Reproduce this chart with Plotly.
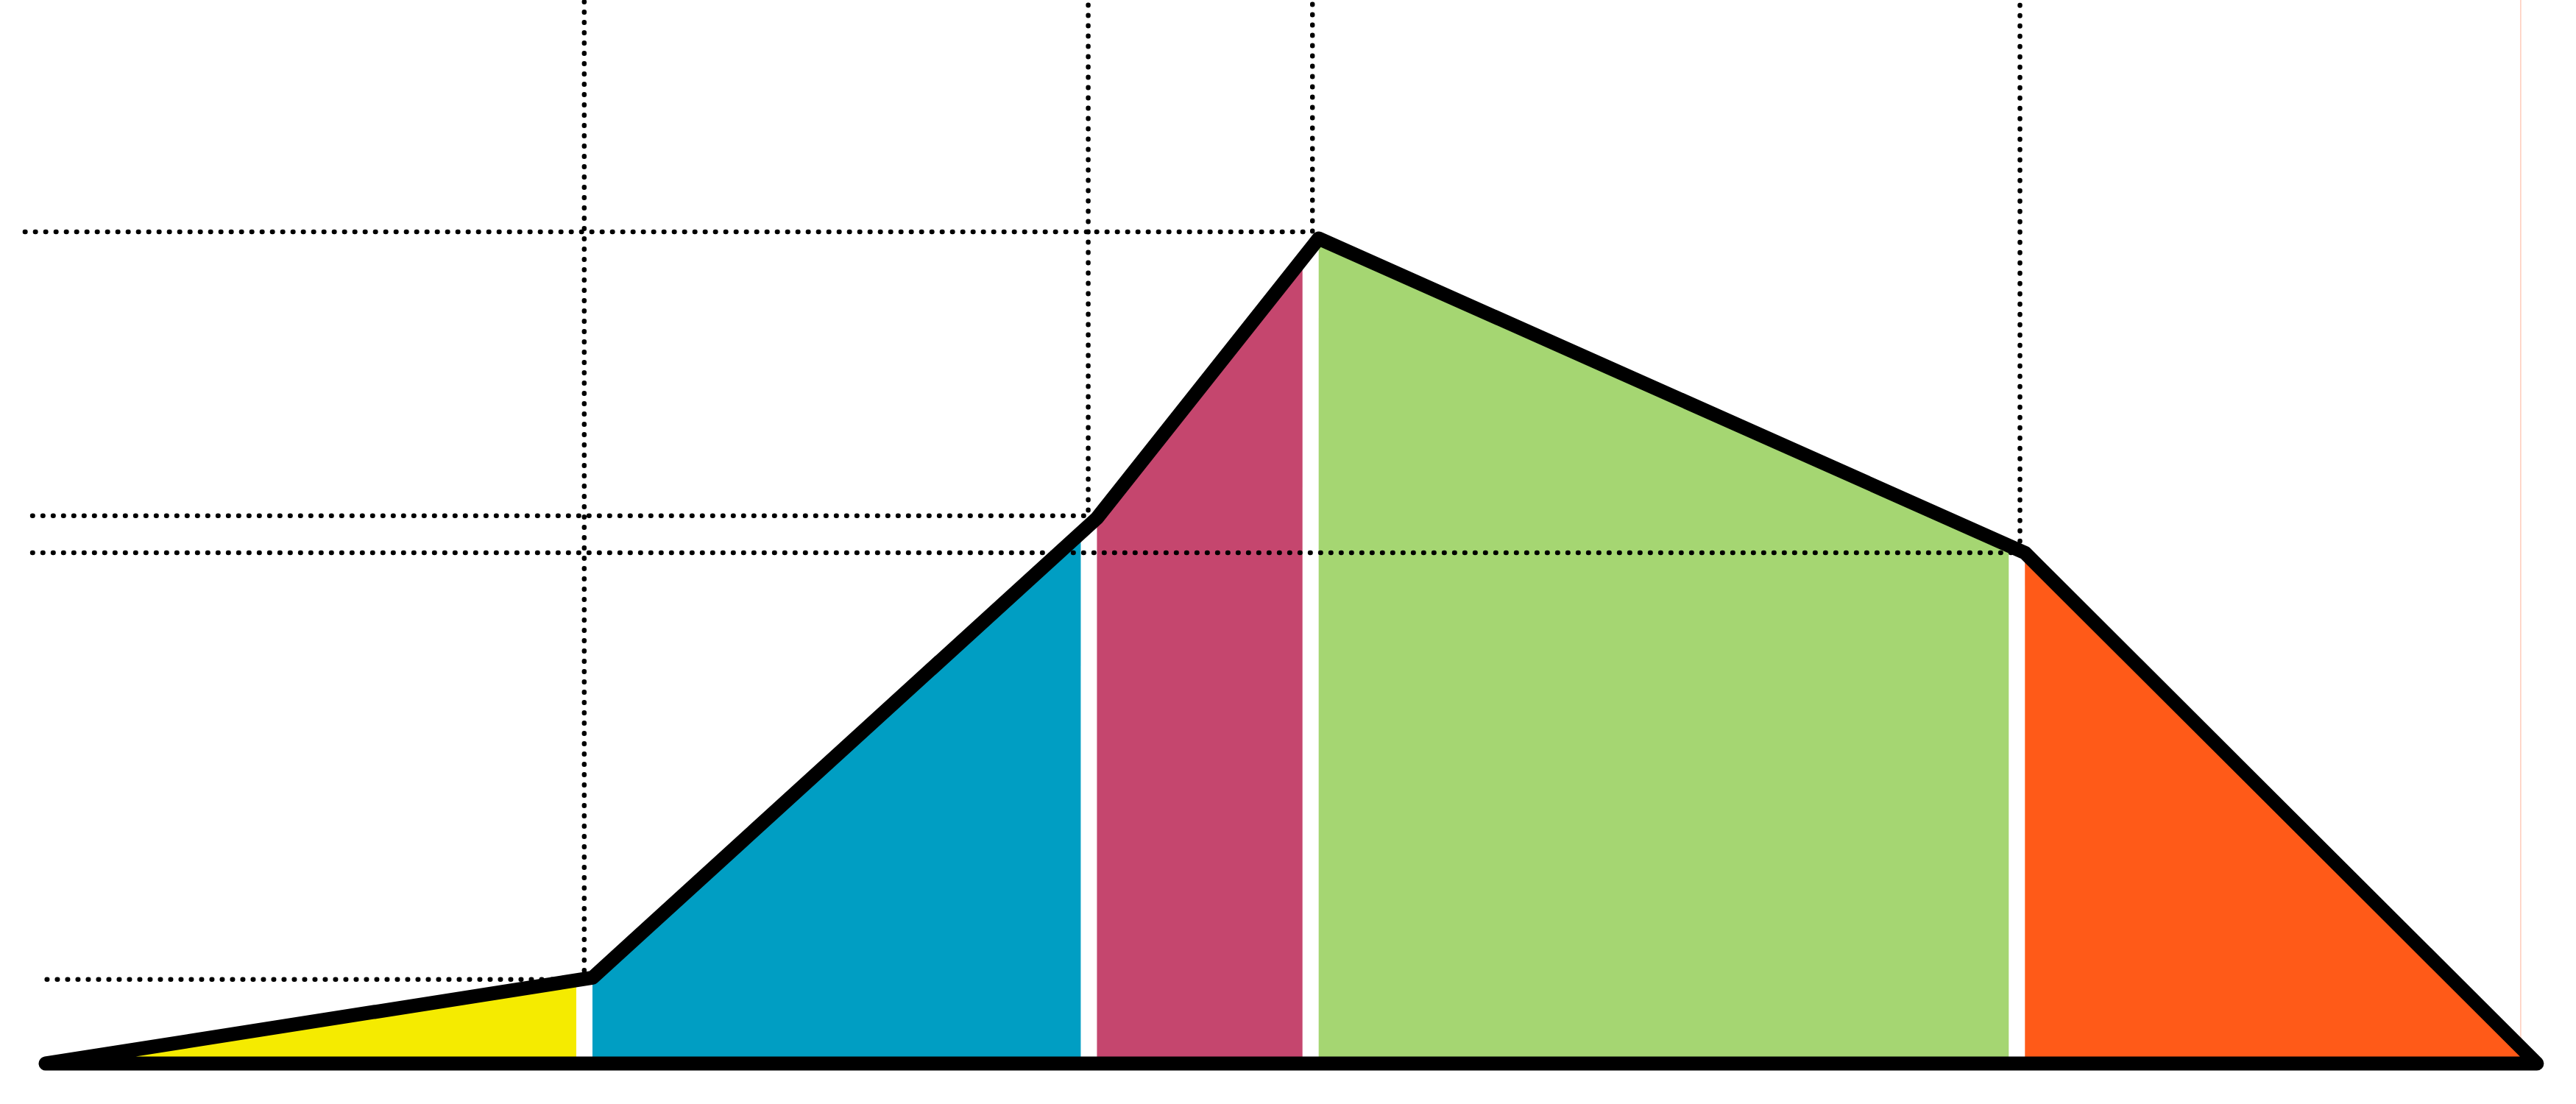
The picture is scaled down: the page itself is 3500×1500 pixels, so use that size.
import numpy as np
import plotly.graph_objects as go

# Outline break points (x as % of span, y as % of peak)
stage_x = [0.0, 21.95, 42.2, 51.1, 79.45, 100.0]
stage_y = [0.0, 10.4, 66.1, 100.0, 61.9, 0.3]
stage_colors = ["#F5EB00", "#009EC3", "#C5466E", "#A5D672", "#FF5A18"]

# Dotted guide lines
guide_x = [21.62, 41.85, 50.85, 79.25]
guide_y = [10.2, 66.4, 100.8, 61.9]
guide_left = [0.05, -0.53, -0.83, -0.53]

GAP = 0.65
X_RANGE = [-1.832, 101.57]
Y_RANGE = [-4.906, 128.9]

fig = go.Figure()

# Coloured regions under the outline
for i, col in enumerate(stage_colors):
    xa = stage_x[i]
    xb = stage_x[i + 1] - GAP
    ya = float(np.interp(xa, stage_x, stage_y))
    yb = float(np.interp(xb, stage_x, stage_y))
    fig.add_trace(go.Scatter(
        x=[xa, xa, xb, xb, xa], y=[0, ya, yb, 0, 0],
        mode="lines", fill="toself", fillcolor=col,
        line=dict(width=0, color=col), hoverinfo="skip", showlegend=False))

# faint edge line at right end of the last region
xe = stage_x[-1] - GAP
fig.add_trace(go.Scatter(x=[xe, xe], y=[0, Y_RANGE[1]], mode="lines",
                         line=dict(color="rgba(255,110,60,0.35)", width=1.5),
                         hoverinfo="skip", showlegend=False))

# Dotted guides
for gx, gy, gl in zip(guide_x, guide_y, guide_left):
    fig.add_trace(go.Scatter(x=[gl, gx, gx], y=[gy, gy, Y_RANGE[1]], mode="lines",
                             line=dict(color="black", width=6.5, dash="0.5px,13.5px"),
                             hoverinfo="skip", showlegend=False))

# Outline (closed along the baseline)
fig.add_trace(go.Scatter(
    x=stage_x + [stage_x[-1], stage_x[0]],
    y=stage_y + [0, 0],
    mode="lines", line=dict(color="black", width=19),
    hoverinfo="skip", showlegend=False))

fig.update_layout(
    width=3500, height=1500,
    margin=dict(l=0, r=0, t=0, b=0),
    paper_bgcolor="white", plot_bgcolor="white",
    xaxis=dict(range=X_RANGE, visible=False, showgrid=False, zeroline=False),
    yaxis=dict(range=Y_RANGE, visible=False, showgrid=False, zeroline=False),
    showlegend=False,
)

post = """
document.body.style.margin='0';
document.body.style.overflow='hidden';
document.querySelectorAll('.scatterlayer path.js-line').forEach(function(p){
  p.style.strokeLinejoin='round';
  p.style.strokeLinecap='round';
});
"""
fig.write_html("out.html", config={"displayModeBar": False}, post_script=post)
